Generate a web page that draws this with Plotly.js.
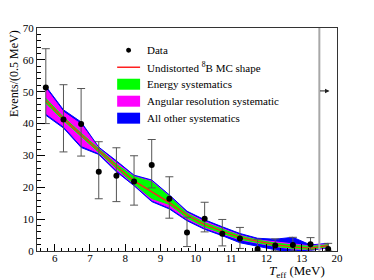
<!DOCTYPE html>
<html>
<head>
<meta charset="utf-8">
<script src="https://cdn.plot.ly/plotly-3.0.1.min.js"></script>
<style>html,body{margin:0;padding:0;background:#fff;}#chart{width:374px;height:280px;}</style>
</head>
<body>
<div id="chart"></div>
<script>
// bin centres (MeV); last bin is the overflow bin drawn at 13.5-14 (labelled 20)
const binCentres = [5.75, 6.25, 6.75, 7.25, 7.75, 8.25, 8.75, 9.25, 9.75, 10.25, 10.75, 11.25, 11.75, 12.25, 12.75, 13.25, 13.75];
const dataCounts = [51.3, 41.3, 39.9, 24.9, 23.6, 21.8, 27.0, 16.4, 5.8, 10.1, 5.4, 3.9, 0.6, 1.7, 1.9, 2.1, 0.6];
const errPlus    = [12.2, 10.9, 11.1, 9.4, 8.8, 8.1, 8.0, 6.9, 4.8, 5.2, 4.5, 3.5, 3.1, 2.1, 2.4, 2.1, 1.8];
const errMinus   = [11.3, 10.2, 10.1, 8.5, 8.1, 7.4, 7.2, 6.1, 4.4, 4.1, 3.8, 3.1, 0.6, 1.7, 1.9, 1.7, 0.6];
const mcShape    = [47.2, 41.5, 36.5, 31.5, 26.6, 22.0, 18.7, 15.2, 11.2, 8.3, 6.2, 4.3, 3.0, 2.0, 1.3, 0.9, 1.7];
const allUpper   = [51.7, 44.3, 40.5, 32.6, 28.3, 23.8, 22.3, 17.6, 12.5, 9.8, 7.6, 5.5, 4.0, 3.7, 4.3, 1.9, 2.4];
const allLower   = [42.6, 38.6, 32.5, 30.3, 24.9, 20.5, 15.5, 13.2, 9.5, 6.8, 4.8, 2.6, 1.5, 0.4, -0.5, 0.2, 1.0];
const angUpper   = [51.0, 43.6, 39.8, 32.2, 27.8, 23.4, 21.9, 17.2, 12.0, 9.3, 7.1, 5.0, 3.5, 2.9, 2.3, 1.6, 2.2];
const angLower   = [43.2, 39.2, 33.1, 30.8, 25.4, 20.9, 16.0, 13.7, 10.0, 7.3, 5.3, 3.5, 2.4, 1.4, 0.6, 0.4, 1.2];
const engUpper   = [47.9, 42.0, 37.0, 32.1, 27.2, 23.3, 21.7, 17.1, 11.8, 8.9, 6.8, 4.8, 3.4, 2.5, 1.9, 1.4, 2.0];
const engLower   = [46.4, 41.0, 36.0, 31.0, 26.0, 21.0, 16.5, 14.6, 10.4, 7.6, 5.6, 3.7, 2.6, 1.5, 0.8, 0.5, 1.4];
const xTickVals  = [6, 7, 8, 9, 10, 11, 12, 13, 14];
const xTickText  = ['6', '7', '8', '9', '10', '11', '12', '13', '20'];
const legendLabels = ['Data', 'Undistorted <sup>8</sup>B MC shape', 'Energy systematics', 'Angular resolution systematic', 'All other systematics'];

function band(upper, lower, color) {
  return {
    x: binCentres.concat(binCentres.slice().reverse()),
    y: upper.concat(lower.slice().reverse()),
    type: 'scatter', mode: 'lines', fill: 'toself',
    fillcolor: color, line: {color: color, width: 1},
    hoverinfo: 'skip', showlegend: false
  };
}

const traces = [
  band(allUpper, allLower, '#0000ff'),
  band(angUpper, angLower, '#ff00ff'),
  band(engUpper, engLower, '#00ff00'),
  {x: binCentres, y: mcShape, type: 'scatter', mode: 'lines', line: {color: '#ff2020', width: 1.3}, showlegend: false},
  {x: binCentres, y: dataCounts, type: 'scatter', mode: 'markers',
   marker: {color: '#000', size: 6},
   error_y: {type: 'data', symmetric: false, array: errPlus, arrayminus: errMinus, color: '#555', thickness: 1, width: 4},
   showlegend: false}
];

const serif = 'Liberation Serif, Times New Roman, serif';
const L = 36.6, R = 337.5, T = 27.7, B = 251;
const px = v => (v - L) / (R - L);
const py = v => (B - v) / (B - T);

const rows = [50, 67, 84, 101, 118];
const shapes = [
  {type: 'line', xref: 'x', yref: 'paper', x0: 13.5, x1: 13.5, y0: 0, y1: 1, line: {color: '#a8a8a8', width: 2}},
  // legend symbols
  {type: 'circle', xref: 'paper', yref: 'paper', x0: px(126), x1: px(131), y0: py(rows[0] + 2.5), y1: py(rows[0] - 2.5), fillcolor: '#000', line: {width: 0}},
  {type: 'line', xref: 'paper', yref: 'paper', x0: px(117), x1: px(140), y0: py(rows[1]), y1: py(rows[1]), line: {color: '#ff2020', width: 1.5}},
  {type: 'rect', xref: 'paper', yref: 'paper', x0: px(117), x1: px(140), y0: py(rows[2] + 5.5), y1: py(rows[2] - 5.5), fillcolor: '#00ff00', line: {width: 0}},
  {type: 'rect', xref: 'paper', yref: 'paper', x0: px(117), x1: px(140), y0: py(rows[3] + 5.5), y1: py(rows[3] - 5.5), fillcolor: '#ff00ff', line: {width: 0}},
  {type: 'rect', xref: 'paper', yref: 'paper', x0: px(117), x1: px(140), y0: py(rows[4] + 5.5), y1: py(rows[4] - 5.5), fillcolor: '#0000ff', line: {width: 0}}
];

const annotations = legendLabels.map((t, i) => ({
  xref: 'paper', yref: 'paper', x: px(145), y: py(rows[i]), xanchor: 'left', yanchor: 'middle',
  text: t, showarrow: false, font: {family: serif, size: 11, color: '#000'}
}));
annotations.push({
  xref: 'paper', yref: 'paper', x: px(13), y: 1, xanchor: 'center', yanchor: 'top', textangle: -90,
  text: 'Events/(0.5 MeV)', showarrow: false, font: {family: serif, size: 12, color: '#000'}
});
annotations.push({
  xref: 'paper', yref: 'paper', x: px(327), y: py(272), xanchor: 'right', yanchor: 'middle',
  text: '<i>T</i><sub>eff</sub> (MeV)', showarrow: false, font: {family: serif, size: 13, color: '#000'}
});
// overflow arrow
annotations.push({
  xref: 'paper', yref: 'paper', x: px(330), y: py(90.7), text: '', showarrow: true,
  ax: -11, ay: 0, arrowhead: 2, arrowsize: 0.9, arrowwidth: 1, arrowcolor: '#222'
});

const layout = {
  width: 374, height: 280,
  margin: {l: L, r: 374 - R, t: T, b: 280 - B, pad: 0},
  paper_bgcolor: '#fff', plot_bgcolor: '#fff',
  showlegend: false,
  font: {family: serif, size: 11, color: '#000'},
  xaxis: {
    range: [5.5, 14], tickmode: 'array', tickvals: xTickVals, ticktext: xTickText,
    ticks: 'inside', ticklen: 7, tickcolor: '#000', showgrid: false, zeroline: false,
    showline: true, linecolor: '#333', linewidth: 1, mirror: true, ticklabelstandoff: -3,
    tickfont: {family: serif, size: 11, color: '#000'},
    minor: {tickmode: 'linear', tick0: 5.6, dtick: 0.2, ticks: 'inside', ticklen: 3.5, tickcolor: '#000', showgrid: false}
  },
  yaxis: {
    range: [0, 70], tickmode: 'linear', tick0: 0, dtick: 10,
    ticks: 'inside', ticklen: 8, tickcolor: '#000', showgrid: false, zeroline: false,
    showline: true, linecolor: '#333', linewidth: 1, mirror: true,
    tickfont: {family: serif, size: 11, color: '#000'},
    minor: {tickmode: 'linear', tick0: 0, dtick: 2, ticks: 'inside', ticklen: 4, tickcolor: '#000', showgrid: false}
  },
  shapes: shapes,
  annotations: annotations
};

Plotly.newPlot('chart', traces, layout, {staticPlot: true, displayModeBar: false});
</script>
</body>
</html>
